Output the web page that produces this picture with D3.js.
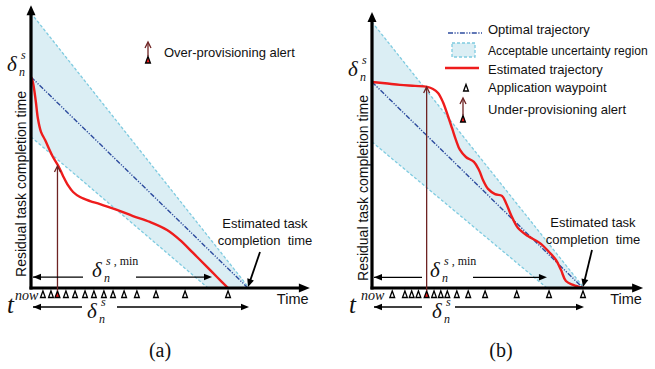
<!DOCTYPE html>
<html>
<head>
<meta charset="utf-8">
<script src="https://cdn.jsdelivr.net/npm/d3@7"></script>
<style>
  html, body { margin: 0; padding: 0; background: #fff; }
  svg { display: block; }
  .sans { font-family: "Liberation Sans", Arial, sans-serif; fill: #111; }
  .serif { font-family: "Liberation Serif", "Times New Roman", serif; fill: #111; }
</style>
</head>
<body>
<svg id="chart" width="655" height="369"></svg>
<script>
// time: 0 = t_now, 100 = estimated completion; residual: 100 = delta_n^s
const axisMax = [128.5, 134];
const panelLabels = ["(a)", "(b)"];
const axisTitle = "Residual task completion time";
const timeTitle = "Time";
const etaText = ["Estimated task", "completion  time"];

// panel (a)
const optimalA = [[0, 100], [100, 0]];
const bandUpperA = [[0, 130.3], [100.5, 0]];
const bandLowerA = [[0, 71.6], [81.6, 0]];
const estimatedA = [[0, 100], [0.9, 97.4], [2.2, 88.5], [3.2, 80.2], [4.6, 74], [6.5, 70.1], [10, 62.3],
  [12.6, 57.8], [14.8, 53], [17.1, 48.6], [19.4, 45.5], [22.6, 43.1], [27.2, 41.2], [31.8, 39.8],
  [39.6, 37.0], [47.0, 34.1], [54.8, 31.3], [62.7, 27.5], [68.7, 22.7], [74.7, 16.6], [81.1, 10.0],
  [85.7, 5.2], [90.8, 0]];
const waypointsA = [5.5, 9.2, 12.2, 16.1, 20.3, 24.9, 29.0, 33.6, 37.8, 42.9, 48.8, 57.6, 71.0, 90.8];
const alertA = [12.2, 57.8];
const minDeltaA = 83.4;

// panel (b)
const optimalB = [[0, 100], [100, 0]];
const bandUpperB = [[0, 129.1], [100.5, 0]];
const bandLowerB = [[0, 70.9], [82.9, 0]];
const estimatedB = [[0, 100], [6.2, 99.4], [13.3, 98.6], [20.4, 98.1], [26.1, 97.6], [28.9, 96.6],
  [31.3, 94.7], [33.6, 90.3], [36.0, 83.5], [37.9, 77.7], [39.8, 71.8], [41.7, 67.0], [44.5, 63.6],
  [48.3, 61.2], [50.7, 57.3], [52.6, 52.4], [55.0, 48.1], [58.3, 45.6], [61.6, 44.7], [63.5, 41.3],
  [65.9, 35.4], [69.2, 29.1], [73.9, 25.2], [79.6, 21.8], [83.9, 17.5], [87.2, 13.6], [89.6, 8.7],
  [91.9, 3.4], [95.3, 1.5], [100, 0]];
const waypointsB = [9.6, 15.6, 18.8, 22.0, 25.9, 29.4, 32.6, 35.7, 40.2, 45.6, 53.6, 68.6, 83.9, 100];
const alertB = [25.9, 97.6];
const minDeltaB = 82.9;

const legendA = ["Over-provisioning alert"];
const legendB = ["Optimal trajectory", "Acceptable uncertainty region", "Estimated trajectory",
  "Application waypoint", "Under-provisioning alert"];

const C = {
  band: "#dbeef4", bandEdge: "#7fcbe0", optimal: "#2d4b9e", est: "#ee1c1c",
  alert: "#6e2323", ink: "#000"
};

const svg = d3.select("#chart");

function head(g, tip, ang, len, half, color) {
  const bx = tip[0] - len * Math.cos(ang), by = tip[1] - len * Math.sin(ang);
  const px = -Math.sin(ang) * half, py = Math.cos(ang) * half;
  g.append("path")
    .attr("d", `M${tip[0]},${tip[1]}L${bx + px},${by + py}L${bx - px},${by - py}Z`)
    .attr("fill", color);
}

function waypoint(g, cx, top, fill) {
  g.append("path")
    .attr("d", `M${cx - 2.4},${top + 6.5}L${cx},${top}L${cx + 2.4},${top + 6.5}Z`)
    .attr("fill", fill).attr("stroke", "#000").attr("stroke-width", 1.3)
    .attr("stroke-linejoin", "miter");
}

function alertArrow(g, cx, bottom, top) {
  g.append("line").attr("x1", cx).attr("x2", cx).attr("y1", bottom).attr("y2", top + 1)
    .attr("stroke", C.alert).attr("stroke-width", 1.3);
  g.append("path").attr("d", `M${cx - 3},${top + 6}L${cx},${top}L${cx + 3},${top + 6}`)
    .attr("fill", "none").attr("stroke", C.alert).attr("stroke-width", 1.3);
}

// delta with sub/superscript
function delta(g, x, base, sup) {
  g.append("text").attr("class", "serif").attr("x", x).attr("y", base)
    .attr("font-size", 21).attr("font-style", "italic").text("δ");
  const t = g.append("text").attr("class", "serif").attr("x", x + 14).attr("y", base - 12)
    .attr("font-size", 12);
  t.append("tspan").attr("font-style", "italic").text("s");
  if (sup) t.append("tspan").text(" , min");
  g.append("text").attr("class", "serif").attr("x", x + 12).attr("y", base + 5)
    .attr("font-size", 12).attr("font-style", "italic").text("n");
}

function drawPanel(p) {
  const g = svg.append("g");
  const x = d3.scaleLinear().domain([0, 100]).range(p.xRange);
  const y = d3.scaleLinear().domain([0, 100]).range(p.yRange);
  const line = d3.line().x(d => x(d[0])).y(d => y(d[1]));

  // uncertainty band
  const poly = [p.upper[0], p.upper[1], p.lower[1], p.lower[0]];
  g.append("path").attr("d", line(poly) + "Z").attr("fill", C.band);
  [p.upper, p.lower].forEach(e => {
    g.append("path").attr("d", line(e)).attr("fill", "none")
      .attr("stroke", C.bandEdge).attr("stroke-width", 1.3).attr("stroke-dasharray", "3,2");
  });

  // optimal trajectory
  g.append("path").attr("d", line(p.optimal)).attr("fill", "none")
    .attr("stroke", C.optimal).attr("stroke-width", 1.4)
    .attr("stroke-dasharray", "5,1.5,1.2,1.5,1.2,1.5");

  // estimated trajectory
  g.append("path").attr("d", line.curve(d3.curveCatmullRom)(p.estimated)).attr("fill", "none")
    .attr("stroke", C.est).attr("stroke-width", 2.4).attr("stroke-linejoin", "round");
  line.curve(d3.curveLinear);

  // axes
  const x0 = x(0), y0 = y(0);
  g.append("line").attr("x1", x0).attr("x2", x0).attr("y1", y0 + 1.5).attr("y2", y(axisMax[1]) + 8)
    .attr("stroke", C.ink).attr("stroke-width", 3.2);
  head(g, [x0, y(axisMax[1])], -Math.PI / 2, 10, 4.5, C.ink);
  g.append("line").attr("x1", x0 - 1.5).attr("x2", x(axisMax[0]) - 8).attr("y1", y0).attr("y2", y0)
    .attr("stroke", C.ink).attr("stroke-width", 3.2);
  head(g, [x(axisMax[0]), y0], 0, 11, 4.5, C.ink);

  // waypoints and alert
  p.waypoints.forEach(w => waypoint(g, x(w), y0 + 3, w === p.alert[0] ? C.est : "#fff"));
  alertArrow(g, x(p.alert[0]), y0 + 3, y(p.alert[1]));

  // delta_n^{s,min} arrow
  const L = p.layout;
  const yMin = y(5.2);
  g.append("line").attr("x1", x0 + 2).attr("x2", L.minGap[0]).attr("y1", yMin).attr("y2", yMin)
    .attr("stroke", C.ink).attr("stroke-width", 1.3);
  head(g, [x0 + 2, yMin], Math.PI, 8, 3.2, C.ink);
  g.append("line").attr("x1", L.minGap[1]).attr("x2", x(p.minDelta) - 4).attr("y1", yMin).attr("y2", yMin)
    .attr("stroke", C.ink).attr("stroke-width", 1.3);
  head(g, [x(p.minDelta), yMin], 0, 8, 3.2, C.ink);
  delta(g, L.minDelta, 277, true);

  // delta_n^s arrow under the axis
  const yS = 307;
  g.append("line").attr("x1", x0 + 2).attr("x2", L.sGap[0]).attr("y1", yS).attr("y2", yS)
    .attr("stroke", C.ink).attr("stroke-width", 1.3);
  head(g, [x0 + 2, yS], Math.PI, 8, 3.2, C.ink);
  g.append("line").attr("x1", L.sGap[1]).attr("x2", x(100) - 4).attr("y1", yS).attr("y2", yS)
    .attr("stroke", C.ink).attr("stroke-width", 1.3);
  head(g, [x(100) + 1, yS], 0, 8, 3.2, C.ink);
  delta(g, L.sDelta, 318, false);

  // y-axis delta label
  delta(g, x0 - 24, y(100) - 6, false);

  // t^now
  g.append("text").attr("class", "serif").attr("x", L.t[0]).attr("y", 313)
    .attr("font-size", 25).attr("font-style", "italic").text("t");
  g.append("text").attr("class", "serif").attr("x", L.t[1]).attr("y", 300)
    .attr("font-size", 14).attr("font-style", "italic").text("now");

  // titles
  g.append("text").attr("class", "sans").attr("font-size", 14)
    .attr("transform", `translate(${L.yTitle[0]},${L.yTitle[1]}) rotate(-90)`)
    .attr("text-anchor", "middle").attr("dy", "0.35em").text(axisTitle);
  g.append("text").attr("class", "sans").attr("font-size", 14.5)
    .attr("x", x(axisMax[0]) - 33).attr("y", 304).text(timeTitle);

  // estimated completion annotation
  etaText.forEach((s, i) => {
    g.append("text").attr("class", "sans").attr("font-size", 13).attr("text-anchor", "middle")
      .attr("x", L.eta[0]).attr("y", L.eta[1] + i * 16.5).attr("xml:space", "preserve").text(s);
  });
  const tip = [x(100), y0 - 1];
  const ang = Math.atan2(tip[1] - L.etaArrow[1], tip[0] - L.etaArrow[0]);
  g.append("line").attr("x1", L.etaArrow[0]).attr("y1", L.etaArrow[1])
    .attr("x2", tip[0] - 7 * Math.cos(ang)).attr("y2", tip[1] - 7 * Math.sin(ang))
    .attr("stroke", C.ink).attr("stroke-width", 1.8);
  head(g, tip, ang, 8, 3.5, C.ink);

  // panel label
  g.append("text").attr("class", "serif").attr("font-size", 20).attr("text-anchor", "middle")
    .attr("x", L.label).attr("y", 357).text(p.label);
  return g;
}

drawPanel({
  label: panelLabels[0], xRange: [31, 248], yRange: [288, 77],
  upper: bandUpperA, lower: bandLowerA, optimal: optimalA, estimated: estimatedA,
  waypoints: waypointsA, alert: alertA, minDelta: minDeltaA,
  layout: { minGap: [83, 136], minDelta: 92, sGap: [82, 117], sDelta: 87, t: [7, 15],
    yTitle: [21, 184], eta: [265, 228], etaArrow: [260, 252], label: 160 }
});
drawPanel({
  label: panelLabels[1], xRange: [372, 583], yRange: [288, 82],
  upper: bandUpperB, lower: bandLowerB, optimal: optimalB, estimated: estimatedB,
  waypoints: waypointsB, alert: alertB, minDelta: minDeltaB,
  layout: { minGap: [422, 473], minDelta: 430, sGap: [422, 455], sDelta: 432, t: [349, 361],
    yTitle: [363, 188], eta: [593, 227], etaArrow: [592, 250], label: 501 }
});

// legend (a)
const la = svg.append("g");
waypoint(la, 148, 56.5, C.est);
alertArrow(la, 148, 56.5, 42);
la.append("text").attr("class", "sans").attr("font-size", 13).attr("x", 164).attr("y", 57).text(legendA[0]);

// legend (b)
const lb = svg.append("g");
const rows = [34, 55, 73.5, 92, 114];
lb.append("line").attr("x1", 448).attr("x2", 482).attr("y1", 33).attr("y2", 33)
  .attr("stroke", C.optimal).attr("stroke-width", 1.4).attr("stroke-dasharray", "5,1.5,1.2,1.5,1.2,1.5");
lb.append("rect").attr("x", 452).attr("y", 43).attr("width", 23).attr("height", 14)
  .attr("fill", C.band).attr("stroke", C.bandEdge).attr("stroke-width", 1.3).attr("stroke-dasharray", "3,2");
lb.append("line").attr("x1", 445).attr("x2", 479).attr("y1", 68).attr("y2", 68)
  .attr("stroke", C.est).attr("stroke-width", 2.6);
waypoint(lb, 466, 84.5, "#fff");
waypoint(lb, 463, 115.5, C.est);
alertArrow(lb, 463, 115.5, 98);
legendB.forEach((s, i) => {
  const t = lb.append("text").attr("class", "sans").attr("font-size", 13).attr("x", 488).attr("y", rows[i]).text(s);
  // shrink the long entry so it stays inside the right edge
  const w = t.node().getComputedTextLength();
  if (w > 160) t.attr("font-size", 13 * 160 / w);
});
</script>
</body>
</html>
